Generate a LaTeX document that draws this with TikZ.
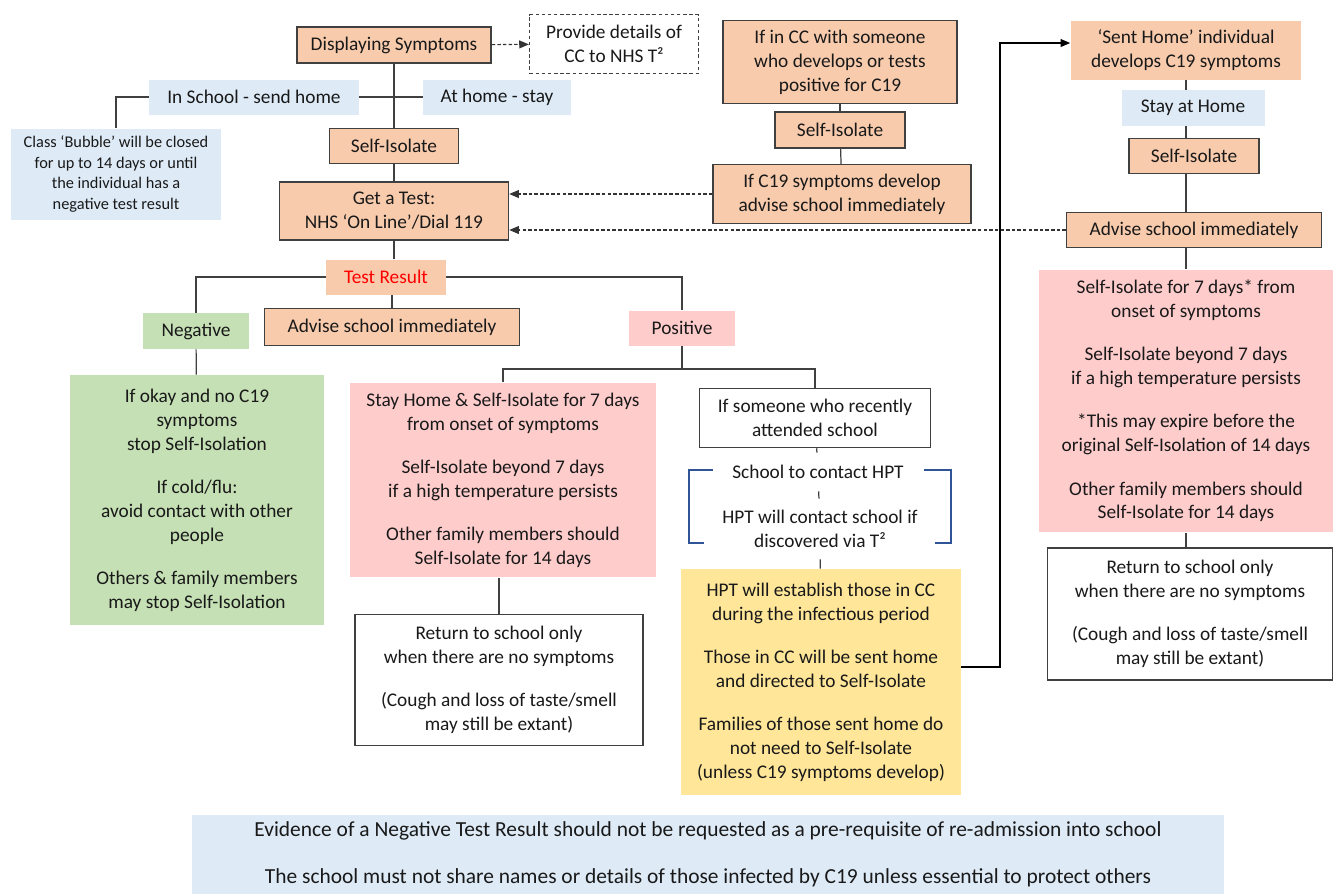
\documentclass[tikz,border=0pt]{standalone}
\usepackage{fontspec}
\setmainfont{Carlito}
\usetikzlibrary{arrows.meta,positioning}
\definecolor{peach}{HTML}{F8CBAD}
\definecolor{paleblue}{HTML}{DEEBF7}
\definecolor{palegreen}{HTML}{C5E0B4}
\definecolor{palepink}{HTML}{FFCCCC}
\definecolor{paleyellow}{HTML}{FFE699}
\definecolor{edgegray}{HTML}{404040}
\definecolor{bracketblue}{HTML}{2F5597}
\tikzset{
    base/.style={align=center,inner sep=0pt,text=black!90,font=\fontsize{11}{13.6}\selectfont},
    peachbox/.style={base,fill=peach,draw=edgegray,line width=0.85pt},
    peachplain/.style={base,fill=peach},
    bluebox/.style={base,fill=paleblue},
    greenbox/.style={base,fill=palegreen},
    pinkbox/.style={base,fill=palepink},
    yellowbox/.style={base,fill=paleyellow},
    whitebox/.style={base,fill=white,draw=edgegray,line width=0.85pt},
    dashbox/.style={base,draw=edgegray,line width=0.7pt,dash pattern=on 2pt off 1.5pt},
    link/.style={draw=edgegray,line width=0.7pt},
    dashlink/.style={draw=black!80,line width=0.6pt,dash pattern=on 2pt off 1.2pt,-{Triangle[length=5.5pt,width=4.5pt]}},
    arrowlink/.style={draw=black,line width=0.7pt,-{Triangle[length=5.5pt,width=4.5pt]}},
    bracket/.style={draw=bracketblue,line width=0.7pt}
}

\begin{document}
\begin{tikzpicture}[x=0.02cm,y=-0.02cm]
    \useasboundingbox (0,0) rectangle (1334,894);
    %symptoms
    \node[peachbox,minimum width=3.88cm,minimum height=0.72cm] (disp) at (394,45) {Displaying Symptoms};
    \node[dashbox,minimum width=3.38cm,minimum height=1.18cm] (provide) at (614,44) {Provide details of\\CC to NHS T²};
    \node[bluebox,minimum width=4.2cm,minimum height=0.7cm] (inschool) at (254,97) {In School - send home};
    \node[bluebox,minimum width=2.96cm,minimum height=0.7cm] (athome) at (497,97) {At home - stay};
    \node[bluebox,minimum width=4.22cm,minimum height=1.82cm,font=\fontsize{9.3}{11.9}\selectfont] (bubble) at (116,174) {Class `Bubble' will be closed\\for up to 14 days or until\\the individual has a\\negative test result};
    \node[peachbox,minimum width=2.58cm,minimum height=0.7cm] (selfA) at (394,146) {Self-Isolate};
    \node[peachbox,minimum width=4.58cm,minimum height=1.16cm] (gettest) at (394,211) {Get a Test:\\NHS `On Line'/Dial 119};
    %result
    \node[peachplain,minimum width=2.4cm,minimum height=0.7cm,text=red] (result) at (386,277) {Test Result};
    \node[peachbox,minimum width=5.1cm,minimum height=0.74cm] (adviseA) at (392,327) {Advise school immediately};
    \node[greenbox,minimum width=2.14cm,minimum height=0.72cm] (negative) at (196,331) {Negative};
    \node[pinkbox,minimum width=2.12cm,minimum height=0.7cm] (positive) at (682,328) {Positive};
    \node[greenbox,minimum width=5.08cm,minimum height=5cm] (okay) at (197,500) {If okay and no C19\\symptoms\\stop Self-Isolation\\[11pt]If cold/flu:\\avoid contact with other\\people\\[11pt]Others \& family members\\may stop Self-Isolation};
    \node[pinkbox,minimum width=6.14cm,minimum height=3.9cm] (stayhome) at (503,480) {Stay Home \& Self-Isolate for 7 days\\from onset of symptoms\\[11pt]Self-Isolate beyond 7 days\\if a high temperature persists\\[11pt]Other family members should\\Self-Isolate for 14 days};
    \node[whitebox,minimum width=5.76cm,minimum height=2.62cm] (returnA) at (499,680) {Return to school only\\when there are no symptoms\\[11pt](Cough and loss of taste/smell\\may still be extant)};
    \node[whitebox,minimum width=4.62cm,minimum height=1.18cm] (someone) at (815,418) {If someone who recently\\attended school};
    \node[base,minimum height=0.76cm] (contact) at (818,472) {School to contact HPT};
    \node[base,minimum height=1.2cm] (hptcontact) at (820,529) {HPT will contact school if\\discovered via T²};
    \node[yellowbox,minimum width=5.6cm,minimum height=4.52cm] (establish) at (821,682) {HPT will establish those in CC\\during the infectious period\\[11pt]Those in CC will be sent home\\and directed to Self-Isolate\\[11pt]Families of those sent home do\\not need to Self-Isolate\\(unless C19 symptoms develop)};
    %close contact
    \node[peachbox,minimum width=4.68cm,minimum height=1.66cm] (ifcc) at (840,62) {If in CC with someone\\who develops or tests\\positive for C19};
    \node[peachbox,minimum width=2.6cm,minimum height=0.72cm] (selfB) at (840,130) {Self-Isolate};
    \node[peachbox,minimum width=5.16cm,minimum height=1.18cm] (ifsymp) at (842,194) {If C19 symptoms develop\\advise school immediately};
    %sent home
    \node[peachplain,minimum width=4.62cm,minimum height=1.18cm] (senthome) at (1186,50) {`Sent Home' individual\\develops C19 symptoms};
    \node[bluebox,minimum width=2.86cm,minimum height=0.72cm] (stayathome) at (1193,108) {Stay at Home};
    \node[peachbox,minimum width=2.6cm,minimum height=0.7cm] (selfC) at (1194,156) {Self-Isolate};
    \node[peachbox,minimum width=5.1cm,minimum height=0.7cm] (adviseB) at (1194,230) {Advise school immediately};
    \node[pinkbox,minimum width=5.9cm,minimum height=5.26cm] (sevendays) at (1186,401) {Self-Isolate for 7 days* from\\onset of symptoms\\[11pt]Self-Isolate beyond 7 days\\if a high temperature persists\\[11pt]*This may expire before the\\original Self-Isolation of 14 days\\[11pt]Other family members should\\Self-Isolate for 14 days};
    \node[whitebox,minimum width=5.7cm,minimum height=2.64cm] (returnB) at (1190,614) {Return to school only\\when there are no symptoms\\[11pt](Cough and loss of taste/smell\\may still be extant)};
    %note
    \node[bluebox,minimum width=20.64cm,minimum height=1.58cm,font=\fontsize{12.2}{14}\selectfont] (note) at (708,854) {Evidence of a Negative Test Result should not be requested as a pre-requisite of re-admission into school\\[12.5pt]The school must not share names or details of those infected by C19 unless essential to protect others};
    %E1
    \draw[link] (disp) -- (selfA);
    \draw[link] (inschool) -- (athome);
    \draw[link] (inschool.west) -| (bubble.north);
    \draw[link] (selfA) -- (gettest);
    \draw[link] (gettest.south) -- (gettest.south |- result.north);
    \draw[link] (result.west) -| (negative.north);
    \draw[link] (result.east) -| (positive.north);
    \draw[link] (adviseA.north) -- (adviseA.north |- result.south);
    \draw[link] (negative) -- (okay);
    \coordinate (split) at (682,369);
    \draw[link] (positive) -- (split);
    \draw[link] (stayhome.north) |- (split) -| (someone.north);
    \draw[link] (returnA.north) -- (returnA.north |- stayhome.south);
    \draw[link] (someone) -- (contact);
    \draw[link] (contact) -- (hptcontact);
    \draw[link] (hptcontact) -- (establish);
    \draw[bracket] (713,470) -- (689,470) -- (689,543) -- (704,543);
    \draw[bracket] (924,470) -- (951,470) -- (951,543) -- (935,543);
    %E2
    \draw[link] (ifcc) -- (selfB);
    \draw[link] (selfB) -- (ifsymp);
    \draw[dashlink] (disp) -- (provide);
    \draw[dashlink] (ifsymp.west) -- (ifsymp.west -| gettest.east);
    \draw[dashlink] (adviseB.west) -- (adviseB.west -| gettest.east);
    \coordinate (turn) at (1000,43);
    \draw[arrowlink] (establish.east |- 0,667) -| (turn) -- (senthome.west |- turn);
    %E3
    \draw[link] (senthome.south) -- (senthome.south |- stayathome.north);
    \draw[link] (senthome.south |- stayathome.south) -- (senthome.south |- selfC.north);
    \draw[link] (senthome.south |- selfC.south) -- (senthome.south |- adviseB.north);
    \draw[link] (senthome.south |- adviseB.south) -- (senthome.south |- sevendays.north);
    \draw[link] (sevendays.south) -- (sevendays.south |- returnB.north);
\end{tikzpicture}
\end{document}
